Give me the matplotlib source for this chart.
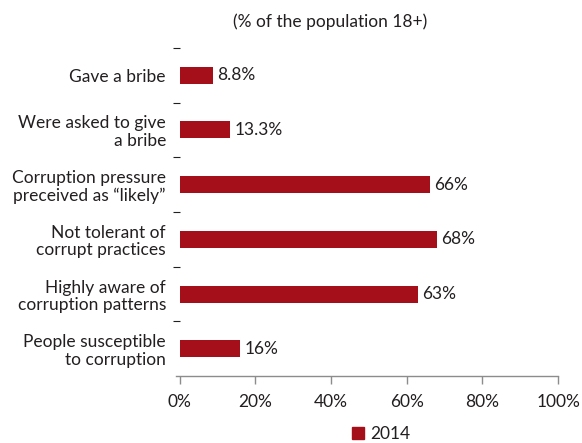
import matplotlib
matplotlib.use('Agg')
import matplotlib.pyplot as plt
import matplotlib.patches as mpatches
import numpy as np

plt.rcParams['font.family'] = ['Lato', 'DejaVu Sans']

categories = [
    'Gave a bribe',
    'Were asked to give\na bribe',
    'Corruption pressure\npreceived as \u201clikely\u201d',
    'Not tolerant of\ncorrupt practices',
    'Highly aware of\ncorruption patterns',
    'People susceptible\nto corruption',
]
values = [8.8, 13.3, 66, 68, 63, 16]
value_labels = ['8.8%', '13.3%', '66%', '68%', '63%', '16%']
xticks = [0, 20, 40, 60, 80, 100]

BAR_COLOR = '#A50F1A'
TEXT_COLOR = '#231F20'
AXIS_COLOR = '#8C8C8C'
FS = 12.5

fig = plt.figure(figsize=(5.82, 4.43), dpi=100)
ax = fig.add_axes([0.309, 0.151, 0.650, 0.741])

y = np.arange(len(categories))
ax.barh(y, values, height=0.31, color=BAR_COLOR)
# value labels just right of each bar
for yi, v, lab in zip(y, values, value_labels):
    ax.text(v + 1.1, yi, lab, va='center', ha='left', fontsize=FS, color=TEXT_COLOR)

ax.set_xlim(0, 100)
ax.set_ylim(len(categories) - 0.5, -0.5)

# category labels without ticks, dashes at boundaries
ax.set_yticks(y)
ax.set_yticklabels(categories, fontsize=FS, color=TEXT_COLOR, linespacing=1.1)
ax.tick_params(axis='y', length=0, pad=10)
ax.set_yticks(np.arange(-0.5, len(categories) - 0.5, 1), minor=True)
ax.tick_params(axis='y', which='minor', length=5, color=TEXT_COLOR, width=0.8, pad=2)

ax.set_xticks(xticks)
ax.set_xticklabels([f'{t}%' for t in xticks], fontsize=FS, color=TEXT_COLOR)
ax.tick_params(axis='x', length=6, color=AXIS_COLOR, width=1, pad=7)

for s in ['top', 'right', 'left']:
    ax.spines[s].set_visible(False)
ax.spines['bottom'].set_color(AXIS_COLOR)
ax.spines['bottom'].set_linewidth(1)
ax.spines['bottom'].set_bounds(-1, 100)
ax.spines['bottom'].set_clip_on(False)

fig.text(0.567, 0.95, '(% of the population 18+)', ha='center', va='center',
         fontsize=FS, color=TEXT_COLOR)

handle = mpatches.Patch(color=BAR_COLOR, label='2014')
fig.legend(handles=[handle], loc='center', bbox_to_anchor=(0.655, 0.02),
           frameon=False, fontsize=FS, handlelength=0.7, handleheight=0.7,
           handletextpad=0.4, labelcolor=TEXT_COLOR)

fig.savefig('out.png', dpi=100)
